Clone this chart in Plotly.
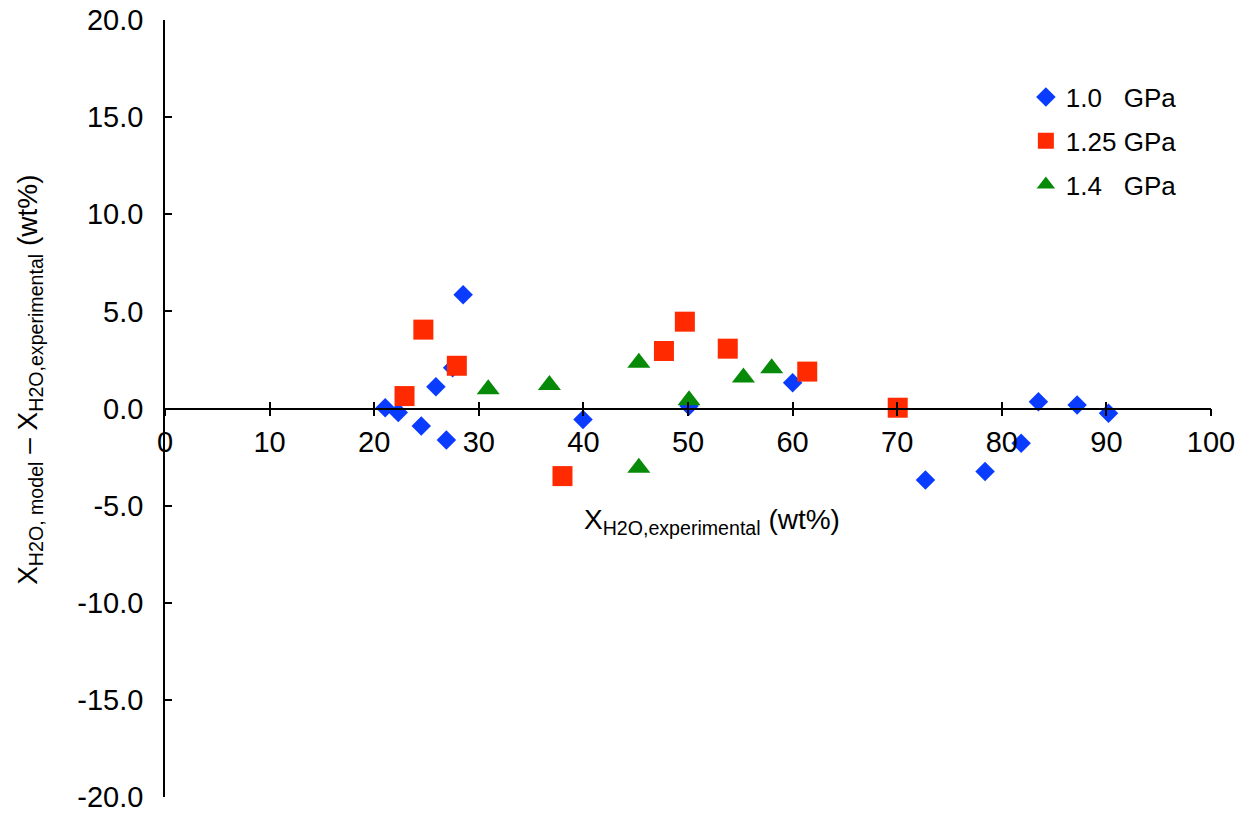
import plotly.graph_objects as go

# 1.0 GPa
x_10 = [21.05, 22.3, 24.5, 25.9, 26.9, 27.5, 28.5, 39.96, 50.1, 60.0, 72.7, 78.4, 81.85, 83.5, 87.2, 90.2]
y_10 = [0.04, -0.2, -0.9, 1.12, -1.62, 2.1, 5.85, -0.56, 0.13, 1.33, -3.68, -3.24, -1.79, 0.35, 0.18, -0.25]
# 1.25 GPa
x_125 = [22.9, 24.7, 27.9, 38.0, 47.7, 49.7, 53.8, 61.4, 70.05]
y_125 = [0.64, 4.06, 2.2, -3.48, 2.96, 4.47, 3.08, 1.9, 0.04]
# 1.4 GPa
x_14 = [30.9, 36.75, 45.3, 45.3, 50.1, 55.3, 58.0]
y_14 = [0.99, 1.21, 2.36, -3.05, 0.42, 1.59, 2.07]

names = ["1.0\u00a0\u00a0\u00a0GPa", "1.25 GPa", "1.4\u00a0\u00a0\u00a0GPa"]
x_ticks = list(range(0, 101, 10))
y_ticks = [20, 15, 10, 5, 0, -5, -10, -15, -20]
y_tick_labels = [f"{v:.1f}" for v in y_ticks]

FONT = "Liberation Sans, Arial, Helvetica, sans-serif"

fig = go.Figure()
fig.add_trace(go.Scatter(x=x_10, y=y_10, mode="markers", name=names[0],
                         legendgroup="a",
                         marker=dict(symbol="diamond", size=15, color="#0a3cff"),
                         xaxis="x", yaxis="y"))
fig.add_trace(go.Scatter(x=x_125, y=y_125, mode="markers", name=names[1],
                         legendgroup="b",
                         marker=dict(symbol="square", size=20, color="#ff2a00"),
                         xaxis="x", yaxis="y"))
fig.add_trace(go.Scatter(x=x_14, y=y_14, mode="markers", name=names[2],
                         legendgroup="c",
                         marker=dict(symbol="triangle-up", size=20, color="#078a07"),
                         xaxis="x2", yaxis="y"))

fig.update_layout(
    width=1233, height=799,
    margin=dict(l=157, r=30, t=12, b=10, autoexpand=False),
    paper_bgcolor="white", plot_bgcolor="white",
    font=dict(family=FONT, size=29, color="black"),
    showlegend=True,
    legend=dict(x=0.823, y=0.931, xanchor="left", yanchor="top",
                font=dict(size=26), bgcolor="rgba(0,0,0,0)",
                itemwidth=30, tracegroupgap=7),
    xaxis=dict(range=[0, 100], tickmode="array", tickvals=x_ticks,
               anchor="free", position=0.5, showline=True, linecolor="black",
               linewidth=1.5, ticks="outside", ticklen=7, tickwidth=1.5,
               tickcolor="black", showgrid=False, zeroline=False,
               automargin=False, ticklabeloverflow="allow",
               ticklabelstandoff=1, tickfont=dict(size=29)),
    xaxis2=dict(range=[0, 100], tickmode="array", tickvals=x_ticks,
                overlaying="x", anchor="free", position=0.5, side="bottom",
                showline=False, ticks="inside", ticklen=7, tickwidth=1.5,
                tickcolor="black", showticklabels=False, showgrid=False,
                automargin=False, zeroline=False),
    yaxis=dict(range=[-20, 20], tickmode="array", tickvals=y_ticks,
               ticktext=y_tick_labels, showline=True, linecolor="black",
               linewidth=1.5, ticks="inside", ticklen=7, tickwidth=1.5,
               tickcolor="black", showgrid=False, zeroline=False,
               automargin=False, ticklabeloverflow="allow",
               ticklabelstandoff=14, tickfont=dict(size=29)),
    annotations=[
        dict(text="X<sub>H2O,experimental</sub> (wt%)", xref="paper", yref="paper",
             x=0.523, y=0.354, xanchor="center", yanchor="middle",
             showarrow=False, font=dict(size=28)),
        dict(text="X<sub>H2O, model</sub> \u2013 X<sub>H2O,experimental</sub> (wt%)",
             xref="paper", yref="paper", x=-0.129, y=0.537, xanchor="center",
             yanchor="middle", textangle=-90, showarrow=False,
             font=dict(size=28)),
    ],
)

fig.write_html("out.html")
